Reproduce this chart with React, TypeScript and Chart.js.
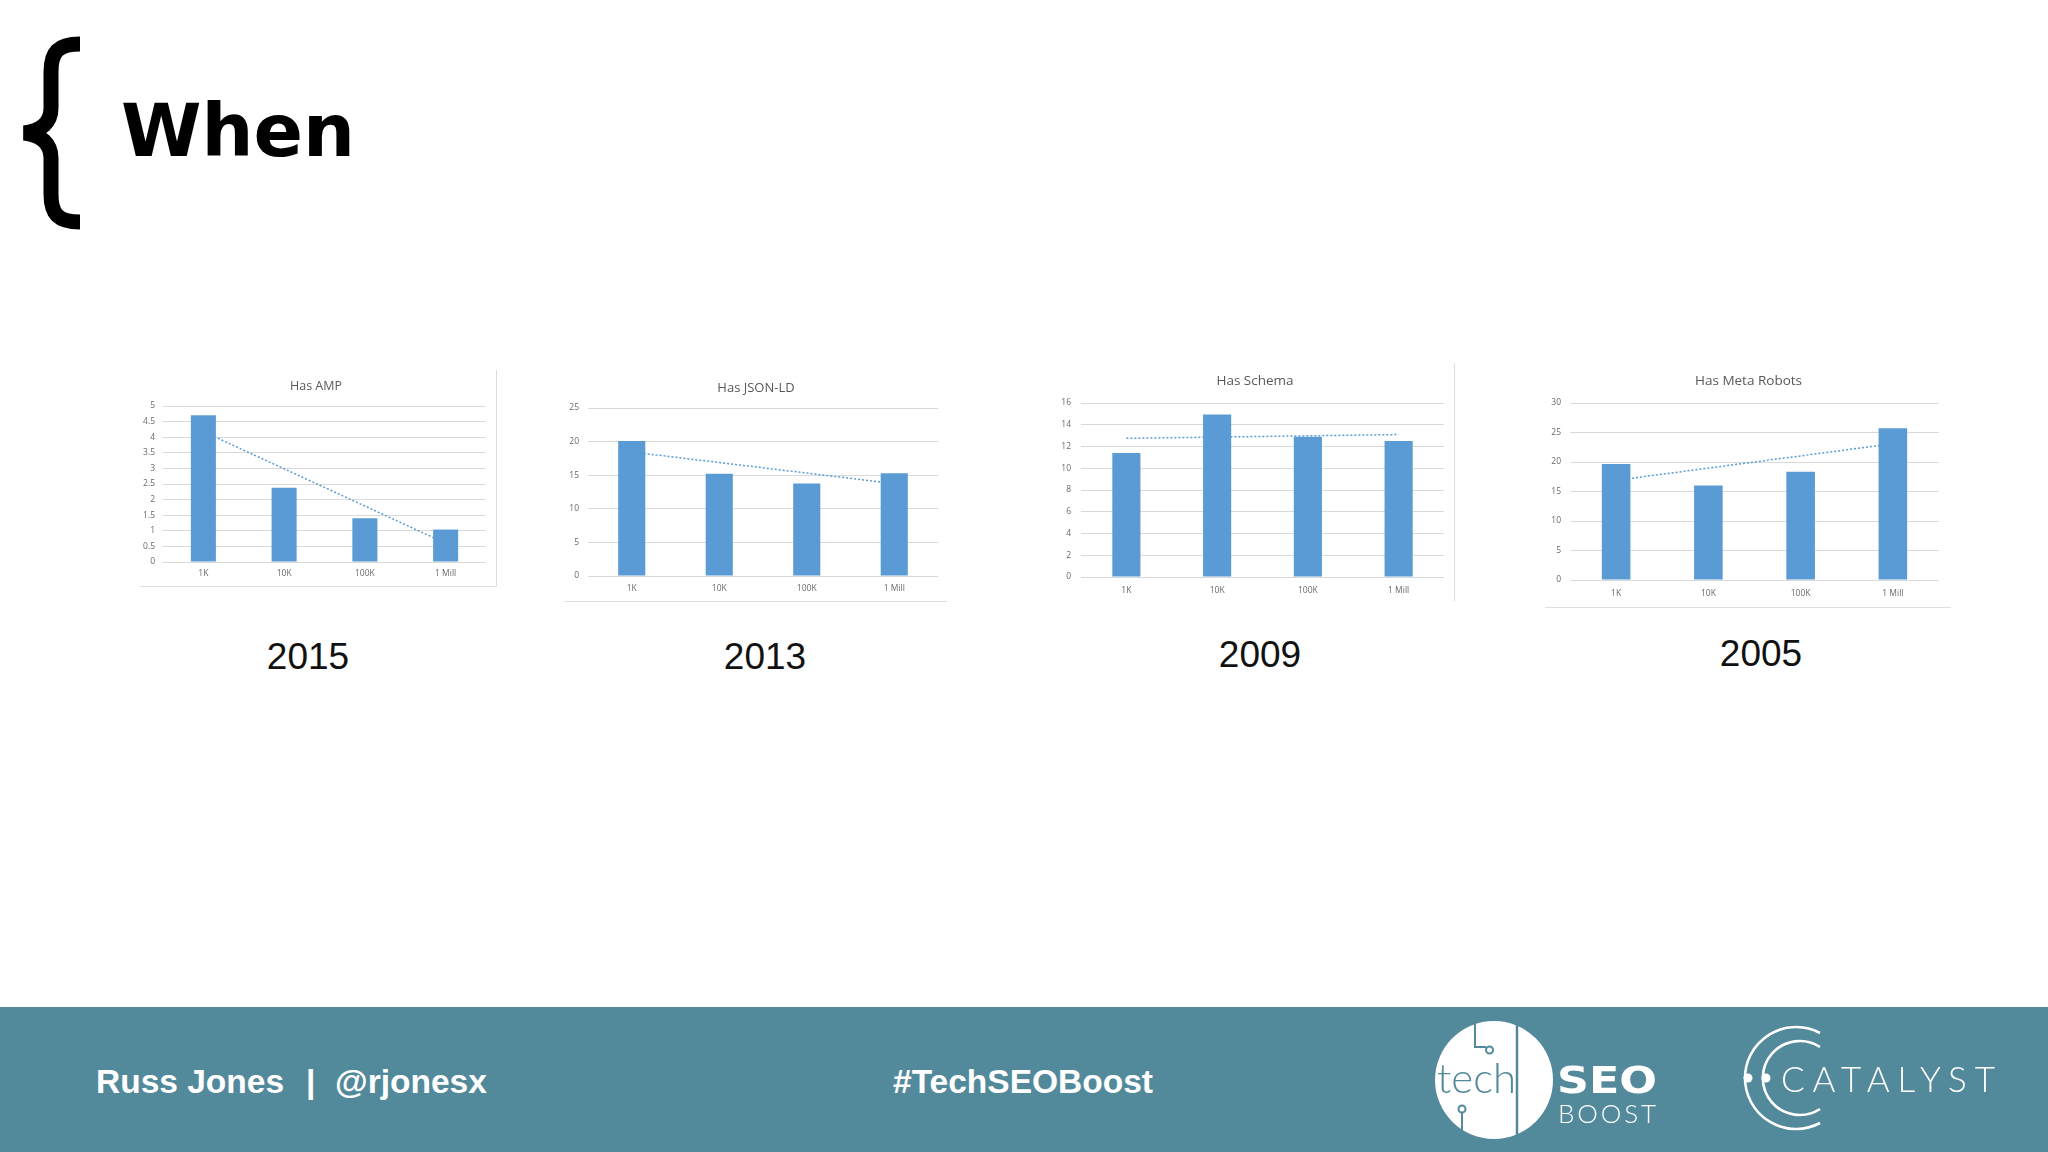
import React, { useEffect, useRef } from "react";
import { Chart, registerables } from "chart.js";

Chart.register(...registerables);

// ---------- data ----------
const categories = ["1K", "10K", "100K", "1 Mill"];

const ampValues = [4.7, 2.38, 1.4, 1.04];
const jsonLdValues = [20.1, 15.2, 13.75, 15.3];
const schemaValues = [11.4, 14.95, 12.9, 12.5];
const metaRobotsValues = [19.65, 16.0, 18.35, 25.7];

// dotted trend lines: end points (first and last category)
const ampTrend = [4.18, null, null, 0.6];
const jsonLdTrend = [18.45, null, null, 13.75];
const schemaTrend = [12.75, null, null, 13.1];
const metaRobotsTrend = [16.9, null, null, 23.1];

const chartTitles = ["Has AMP", "Has JSON-LD", "Has Schema", "Has Meta Robots"];
const yMaxes = [5, 25, 16, 30];
const ySteps = [0.5, 5, 2, 5];
const years = ["2015", "2013", "2009", "2005"];

const BAR = "#5b9bd5";
const GRID = "#d9d9d9";
const TEXT = "#6a6a6a";

type Geo = {
  left: number; top: number; w: number; h: number;
  yW: number; padR: number; titleC: number; titleOff: number; plotTop: number; xH: number;
  tickPadY: number; tickPadX: number; titleSize: number;
};

const geos: Geo[] = [
  { left: 138, top: 368, w: 359, h: 218, yW: 25, padR: 11, titleC: 18, titleOff: 4, plotTop: 38, xH: 24, tickPadY: 8, tickPadX: 6, titleSize: 12.5 },
  { left: 565, top: 368, w: 382, h: 233, yW: 23, padR: 9, titleC: 20, titleOff: 4.5, plotTop: 40, xH: 25, tickPadY: 9, tickPadX: 7, titleSize: 13 },
  { left: 1058, top: 360, w: 395, h: 241, yW: 23, padR: 9, titleC: 21, titleOff: 4, plotTop: 43, xH: 24, tickPadY: 10, tickPadX: 8, titleSize: 13.5 },
  { left: 1545, top: 360, w: 408, h: 247, yW: 25, padR: 14, titleC: 21, titleOff: 6.5, plotTop: 43, xH: 27, tickPadY: 9, tickPadX: 8, titleSize: 13.5 },
];

const seriesValues = [ampValues, jsonLdValues, schemaValues, metaRobotsValues];
const seriesTrends = [ampTrend, jsonLdTrend, schemaTrend, metaRobotsTrend];

function SmallChart({ idx }: { idx: number }) {
  const ref = useRef<HTMLCanvasElement | null>(null);
  const g = geos[idx];
  useEffect(() => {
    if (!ref.current) return;
    const lh = 1.2;
    const tH = g.titleSize * lh;
    const pt = g.titleC - tH / 2;
    const pb = g.plotTop - pt - tH;
    const titleShift = {
      id: "titleShift",
      afterLayout(chart: any) {
        const t = chart.titleBlock;
        if (t) {
          t.left += g.titleOff;
          t.right += g.titleOff;
        }
      },
    };
    const chart = new Chart(ref.current, {
      type: "bar",
      data: {
        labels: categories,
        datasets: [
          {
            type: "bar",
            data: seriesValues[idx],
            backgroundColor: BAR,
            categoryPercentage: 1,
            barPercentage: 0.31,
            order: 0,
          } as any,
          {
            type: "line",
            data: seriesTrends[idx],
            borderColor: BAR,
            borderWidth: 1.5,
            borderDash: [2, 2],
            pointRadius: 0,
            spanGaps: true,
            fill: false,
            order: 1,
          } as any,
        ],
      },
      options: {
        animation: false,
        responsive: false,
        layout: { padding: { left: 0, right: g.padR, top: 0, bottom: 0 } },
        plugins: {
          legend: { display: false },
          tooltip: { enabled: false },
          title: {
            display: true,
            text: chartTitles[idx],
            color: "#595959",
            font: { family: "'Open Sans', sans-serif", size: g.titleSize, weight: "normal", lineHeight: lh },
            padding: { top: pt, bottom: pb },
          },
        },
        scales: {
          x: {
            grid: { display: false, drawTicks: false },
            border: { display: false },
            ticks: {
              color: TEXT,
              font: { family: "'Open Sans', sans-serif", size: 8.5 },
              padding: g.tickPadX,
              maxRotation: 0,
              autoSkip: false,
            },
            afterFit: (s: any) => { s.height = g.xH; },
          },
          y: {
            min: 0,
            max: yMaxes[idx],
            ticks: {
              stepSize: ySteps[idx],
              color: TEXT,
              font: { family: "'Open Sans', sans-serif", size: 8.5 },
              padding: g.tickPadY,
              callback: (v: any) => String(Number(v)),
            },
            grid: { color: GRID, drawTicks: false, lineWidth: 1 },
            border: { display: false },
            afterFit: (s: any) => { s.width = g.yW; },
          },
        },
      } as any,
      plugins: [titleShift as any],
    });
    return () => chart.destroy();
  }, [idx]);
  return (
    <canvas
      ref={ref}
      width={g.w}
      height={g.h}
      style={{ position: "absolute", left: g.left, top: g.top, width: g.w, height: g.h }}
    />
  );
}

const yearCenters = [308, 765, 1260, 1761];
const yearCapTops = [643, 643, 641, 640];

export default function App() {
  const line = (s: React.CSSProperties) => (
    <div style={{ position: "absolute", background: "#dedede", ...s }} />
  );
  return (
    <div
      style={{
        position: "absolute",
        left: 0,
        top: 0,
        width: 2048,
        height: 1152,
        background: "#ffffff",
        overflow: "hidden",
        fontFamily: "'Liberation Sans', Arial, sans-serif",
      }}
    >
      {/* Title */}
      <div
        style={{
          position: "absolute",
          left: 121,
          top: 94,
          fontFamily: "'DejaVu Sans', sans-serif",
          fontWeight: 700,
          fontSize: 73,
          lineHeight: "73px",
          color: "#000",
          whiteSpace: "nowrap",
        }}
      >
        When
      </div>

      {/* chart frames */}
      {line({ left: 496, top: 370, width: 1, height: 216 })}
      {line({ left: 140, top: 586, width: 357, height: 1 })}
      {line({ left: 564, top: 601, width: 383, height: 1 })}
      {line({ left: 1454, top: 363, width: 1, height: 238 })}
      {line({ left: 1545, top: 607, width: 406, height: 1 })}

      {[0, 1, 2, 3].map((i) => (
        <SmallChart key={i} idx={i} />
      ))}

      {years.map((y, i) => (
        <div
          key={y}
          style={{
            position: "absolute",
            left: yearCenters[i] - 100,
            width: 200,
            top: yearCapTops[i] - 0.1305 * 37,
            fontSize: 37,
            lineHeight: "37px",
            textAlign: "center",
            color: "#111",
          }}
        >
          {y}
        </div>
      ))}

      {/* footer */}
      <div style={{ position: "absolute", left: 0, top: 1007, width: 2048, height: 145, background: "#538a9b" }} />
      {[
        { t: "Russ Jones", x: 96 },
        { t: "|", x: 306 },
        { t: "@rjonesx", x: 335 },
        { t: "#TechSEOBoost", x: 893 },
      ].map((o) => (
        <div
          key={o.t}
          style={{
            position: "absolute",
            left: o.x,
            top: 1069 - 0.1305 * 33.5,
            fontSize: 33.5,
            lineHeight: "33.5px",
            fontWeight: 700,
            color: "#ffffff",
            whiteSpace: "nowrap",
          }}
        >
          {o.t}
        </div>
      ))}

      <svg
        width={2048}
        height={1152}
        style={{ position: "absolute", left: 0, top: 0 }}
        viewBox="0 0 2048 1152"
      >
        {/* brace */}
        <path
          d="M 80 44 C 58 44, 51 52, 51 72 L 51 108 C 51 122, 42 131, 24 133 C 42 135, 51 144, 51 158 L 51 194 C 51 214, 58 222, 80 222"
          fill="none"
          stroke="#000"
          strokeWidth={15}
        />

        {/* techSEO boost logo */}
        <circle cx={1494} cy={1080} r={59} fill="#ffffff" />
        <line x1={1517} y1={1023} x2={1517} y2={1137} stroke="#538a9b" strokeWidth={2.5} />
        <polyline points="1475,1022 1475,1047 1486,1047" fill="none" stroke="#538a9b" strokeWidth={2} />
        <circle cx={1489.5} cy={1050} r={3.5} fill="none" stroke="#538a9b" strokeWidth={2} />
        <circle cx={1462} cy={1109} r={3.5} fill="none" stroke="#538a9b" strokeWidth={2} />
        <line x1={1462} y1={1113} x2={1462} y2={1136} stroke="#538a9b" strokeWidth={2} />
        <text x={1437} y={1093} fontFamily="Lato, 'Open Sans', sans-serif" fontWeight={300} fontSize={42} fill="#538a9b">
          tech
        </text>
        <text
          x={1557}
          y={1093}
          fontFamily="'DejaVu Sans', sans-serif"
          fontWeight={700}
          fontSize={38}
          fill="#ffffff"
          textLength={100}
          lengthAdjust="spacingAndGlyphs"
        >
          SEO
        </text>
        <text
          x={1558}
          y={1123}
          fontFamily="Lato, 'Open Sans', sans-serif"
          fontWeight={300}
          fontSize={26}
          fill="#ffffff"
          textLength={98}
          lengthAdjust="spacing"
        >
          BOOST
        </text>

        {/* Catalyst logo */}
        <path d="M 1820 1033 A 51 51 0 1 0 1820 1123" fill="none" stroke="#ffffff" strokeWidth={2.6} />
        <path d="M 1820 1047 A 37 37 0 1 0 1820 1109" fill="none" stroke="#ffffff" strokeWidth={2.6} />
        <circle cx={1748} cy={1078} r={4.5} fill="#ffffff" />
        <circle cx={1766} cy={1078} r={4.5} fill="#ffffff" />
        <text
          x={1781}
          y={1092}
          fontFamily="Lato, 'Open Sans', sans-serif"
          fontWeight={300}
          fontSize={35}
          fill="#ffffff"
          textLength={214}
          lengthAdjust="spacing"
        >
          CATALYST
        </text>
      </svg>
    </div>
  );
}
